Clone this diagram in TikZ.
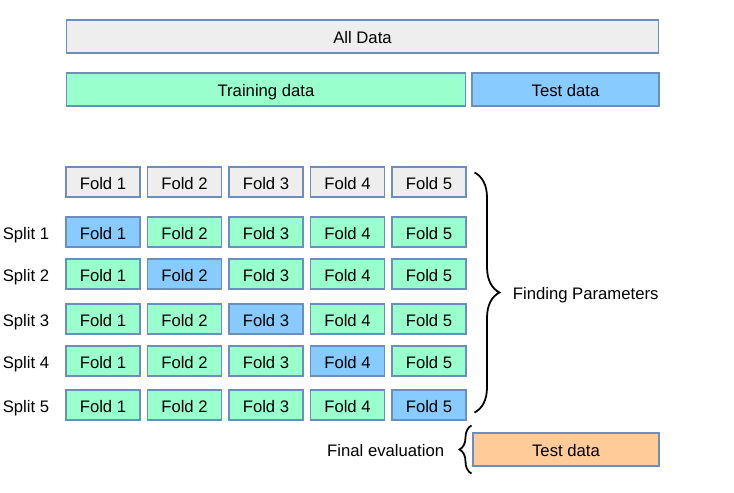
\documentclass[tikz,border=0pt]{standalone}
\usepackage{fontspec}
\setmainfont{Liberation Sans}
\usetikzlibrary{positioning, calc, decorations.pathreplacing}
\definecolor{allfill}{HTML}{EEEEEE}
\definecolor{trainfill}{HTML}{99FFCC}
\definecolor{testfill}{HTML}{88CCFF}
\definecolor{finalfill}{HTML}{FFCC99}
\definecolor{boxline}{HTML}{6C8EBF}
\tikzset{
  databox/.style={
    draw=boxline, fill=#1, line width=0.6pt,
    minimum height=0.66cm, inner sep=0pt,
    text height=0.95em, text depth=0.1em,
    font=\fontsize{9.5}{11}\selectfont
  },
  databox/.default=allfill,
  foldbox/.style={databox=#1, minimum width=1.48cm, minimum height=0.6cm},
  foldbox/.default=trainfill,
  sidetext/.style={inner sep=0pt, text height=0.95em, text depth=0.1em,
    font=\fontsize{9.5}{11}\selectfont},
  pbrace/.style={decorate, decoration={brace, amplitude=#1}, line width=1pt}
}

\begin{document}
\begin{tikzpicture}[x=0.02cm, y=-0.02cm]
    \useasboundingbox (0,0) rectangle (734,493);

    % whole data set and its split
    \node[databox, minimum width=11.86cm] (all) at (362.5,36.5) {All Data};
    \node[databox=trainfill, minimum width=8cm] (train) at (266,89.5) {Training data};
    \node[databox=testfill, minimum width=3.74cm] (test) at (565.5,89.5) {Test data};

    % fold header
    \foreach \c in {1,...,5}
      \node[foldbox=allfill] (h\c) at ({103+81.5*(\c-1)},182) {Fold \c};

    % splits
    \foreach \r/\y in {1/232, 2/274, 3/319, 4/361, 5/405} {
      \node[sidetext] (s\r) at (26,\y) {Split \r};
      \foreach \c in {1,...,5} {
        \ifnum\c=\r \def\fc{testfill}\else \def\fc{trainfill}\fi
        \node[foldbox=\fc] (f\r\c) at ({103+81.5*(\c-1)},\y) {Fold \c};
      }
    }

    % parameter search brace
    \coordinate (btop) at ([shift={(0.16cm,-0.12cm)}]h5.north east);
    \coordinate (bbot) at ([shift={(0.16cm,0.16cm)}]f55.south east);
    \draw[pbrace=0.5cm] (btop) -- (bbot);
    \node[sidetext, anchor=west] (fp) at ($(btop)!0.5!(bbot)+(0.76cm,0)$) {Finding Parameters};

    % final evaluation
    \node[databox=finalfill, minimum width=3.72cm] (final) at (566,449.5) {Test data};
    \coordinate (ebot) at ([shift={(-0.02cm,-0.14cm)}]final.south west);
    \coordinate (etop) at ([shift={(-0.02cm,0.14cm)}]final.north west);
    \draw[pbrace=0.24cm] (ebot) -- (etop);
    \node[sidetext, left=0.56cm of final.west] (eval) {Final evaluation};
\end{tikzpicture}
\end{document}
